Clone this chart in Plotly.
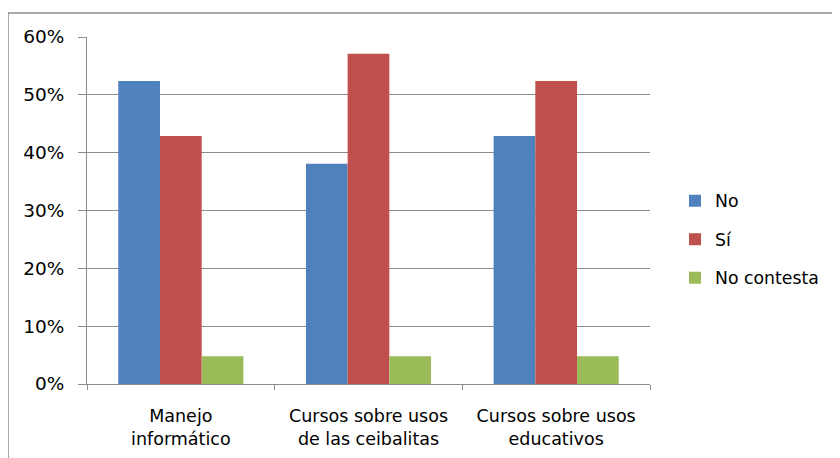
import plotly.graph_objects as go

categories = ["Manejo<br>informático", "Cursos sobre usos<br>de las ceibalitas", "Cursos sobre usos<br>educativos"]
series_names = ["No", "Sí", "No contesta"]
no_vals = [0.524, 0.381, 0.429]
si_vals = [0.429, 0.571, 0.524]
nc_vals = [0.048, 0.048, 0.048]
colors = ["#4F81BD", "#C0504D", "#9BBB59"]

OFF = 8  # page body margin
W, H = 840, 458
# desired screen positions of the plot area
SL, SR, ST, SB = 87, 650, 37, 384
L = SL - OFF
T = ST - OFF
pw, ph = SR - SL, SB - ST
R = W - L - pw
B = H - T - ph

def px_x(p):
    return (p - OFF - L) / pw

def px_y(p):
    return (T + ph - (p - OFF)) / ph

fig = go.Figure()
for i, (name, vals) in enumerate(zip(series_names, [no_vals, si_vals, nc_vals])):
    fig.add_trace(go.Bar(x=categories, y=vals, name=name, marker_color=colors[i],
                         marker_line_width=0, legendgroup=name))

fig.update_layout(
    width=W, height=H,
    margin=dict(l=L, r=R, t=T, b=B),
    paper_bgcolor="white", plot_bgcolor="white",
    barmode="group", bargap=1.5 / 4.5, bargroupgap=0,
    font=dict(family="DejaVu Sans", size=17, color="#000000"),
    legend=dict(x=px_x(675), y=px_y(183), xanchor="left", yanchor="top",
                traceorder="grouped", tracegroupgap=13,
                font=dict(size=17.3), itemwidth=30),
    showlegend=True,
    shapes=[dict(type="rect", xref="paper", yref="paper",
                 x0=px_x(8), x1=px_x(860), y0=px_y(480), y1=px_y(13),
                 line=dict(color="#8C8C8C", width=1.5), fillcolor="rgba(0,0,0,0)", layer="below")],
)
fig.update_yaxes(range=[0, 0.6], dtick=0.1, tickformat=".0%",
                 showgrid=True, gridcolor="#8C8C8C", gridwidth=1,
                 showline=True, linecolor="#8C8C8C", linewidth=1,
                 ticks="outside", ticklen=8, tickcolor="#8C8C8C",
                 ticklabelstandoff=10, zeroline=False,
                 tickfont=dict(size=18.5))
fig.update_xaxes(showline=True, linecolor="#8C8C8C", linewidth=1,
                 ticks="outside", ticklen=5, tickcolor="#8C8C8C",
                 tickson="boundaries", showgrid=False,
                 ticklabelstandoff=16,
                 tickfont=dict(size=17.5))

fig.write_html("out.html")
